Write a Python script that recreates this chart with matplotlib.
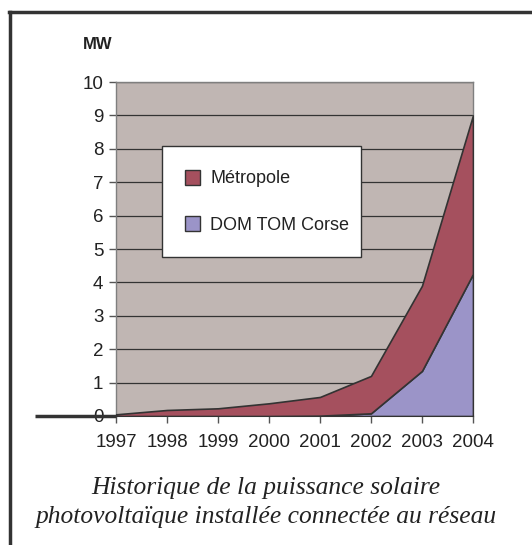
import matplotlib.pyplot as plt
from matplotlib.lines import Line2D
from matplotlib.patches import Patch

# data (MW, stacked)
years = [1997, 1998, 1999, 2000, 2001, 2002, 2003, 2004]
dom_tom = [0.0, 0.0, 0.0, 0.0, 0.01, 0.08, 1.35, 4.25]
metropole = [0.05, 0.18, 0.23, 0.38, 0.56, 1.12, 2.55, 4.75]
series_names = ['Métropole', 'DOM TOM Corse']
caption = 'Historique de la puissance solaire\nphotovoltaïque installée connectée au réseau'

c_metro = '#A5505E'
c_dom = '#9B94C8'
c_bg = '#C0B6B3'
c_dark = '#333333'

plt.rcParams['font.family'] = ['Liberation Sans', 'DejaVu Sans']

fig = plt.figure(figsize=(5.32, 5.45), dpi=100)
ax = fig.add_axes([0.218, 0.2367, 0.671, 0.6128])
ax.set_facecolor(c_bg)

ax.stackplot(years, dom_tom, metropole, colors=[c_dom, c_metro],
             edgecolor=c_dark, linewidth=1.2, zorder=3)

ax.set_xlim(1997, 2004)
ax.set_ylim(0, 10)
ax.set_xticks(years)
ax.set_yticks(range(0, 11))
ax.yaxis.grid(True, color=c_dark, linewidth=0.9, zorder=1)
ax.set_axisbelow(True)
ax.tick_params(axis='both', direction='out', length=5, width=1,
               color='#555555', labelsize=13.5, labelcolor='#222222', pad=4)
ax.tick_params(axis='x', pad=8)
for s in ax.spines.values():
    s.set_color('#7f7f7f')
    s.set_linewidth(1)
ax.spines['bottom'].set_color(c_dark)
ax.spines['bottom'].set_linewidth(1.5)

# legend box
handles = [Patch(facecolor=c_metro, edgecolor=c_dark),
           Patch(facecolor=c_dom, edgecolor=c_dark)]
leg = ax.legend(handles, series_names, loc='center left',
                bbox_to_anchor=(0.128, 0.474, 0.558, 0.335), mode='expand',
                fontsize=13, frameon=True, fancybox=False, framealpha=1,
                handlelength=0.8, handleheight=0.9, labelspacing=1.6,
                borderpad=1.3, handletextpad=0.6, borderaxespad=0)
leg.get_frame().set_edgecolor(c_dark)
leg.get_frame().set_linewidth(1)
leg.set_zorder(5)
for t in leg.get_texts():
    t.set_color('#222222')

fig.text(0.156, 0.918, 'MW', fontsize=12, fontweight='bold', color='#222222',
         ha='left', va='center')

# thick baseline stub on the left of the axis
fig.add_artist(Line2D([0.066, 0.218], [0.2367, 0.2367], color=c_dark,
                      linewidth=2.5, solid_capstyle='butt'))

# outer frame (cropped at right and bottom)
fig.add_artist(Line2D([0.019, 0.019], [0.0, 0.978], color=c_dark, linewidth=2.5))
fig.add_artist(Line2D([0.017, 1.0], [0.978, 0.978], color=c_dark, linewidth=2.5))

fig.text(0.5, 0.078, caption, ha='center', va='center', fontsize=18.4,
         style='italic', family='Liberation Serif', color='#222222',
         linespacing=1.45)

fig.savefig('out.png', dpi=100)
